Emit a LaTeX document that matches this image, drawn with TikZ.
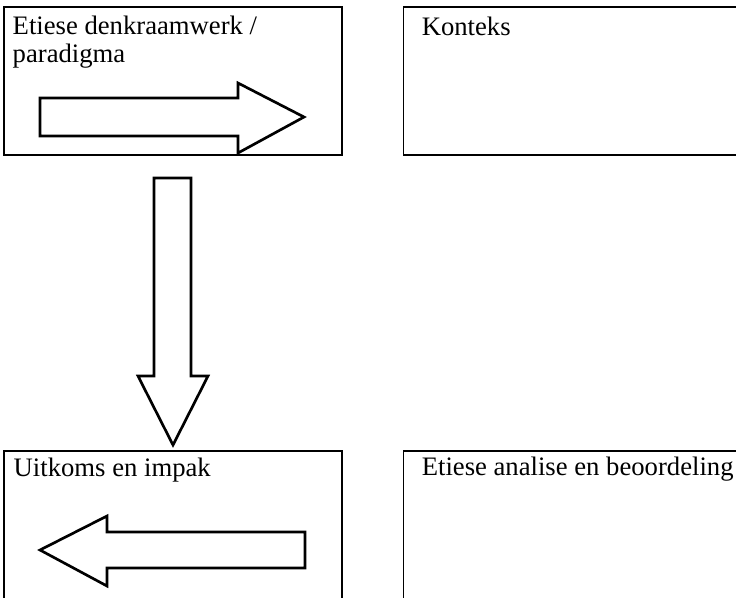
\documentclass[tikz,border=0pt]{standalone}
\usepackage{fontspec}
\setmainfont{Liberation Serif}
\usetikzlibrary{positioning}

\begin{document}
\begin{tikzpicture}[x=0.75pt, y=-0.75pt, font=\fontsize{20}{21}\selectfont,
	box/.style = { rectangle, draw=black, line width=0.8pt, fill=white,
	minimum width=253.5pt, minimum height=111pt, inner sep=0pt },
	caption/.style = { anchor=base west, inner sep=0pt, align=left },
	blockarrow/.style = { draw=black, line width=2pt, fill=white } ]

  \useasboundingbox (0,0) rectangle (736,597);
  \clip (0,0) rectangle (736,597);

  % the four boxes
  \node [name=frame, box] at (173,81) {};
  \node [name=context, box, right=45pt of frame] {};
  \node [name=outcome, box, below=221.2pt of frame] {};
  \node [name=analysis, box, right=45pt of outcome] {};

  \node [name=frametext, caption] at ([shift={(9,56)}]frame.north west)
	{Etiese denkraamwerk /\\ paradigma};
  \node [name=contexttext, caption] at ([shift={(19,29)}]context.north west)
	{Konteks};
  \node [name=outcometext, caption] at ([shift={(10,26)}]outcome.north west)
	{Uitkoms en impak};
  \node [name=analysistext, caption] at ([shift={(19,25)}]analysis.north west)
	{Etiese analise en beoordeling};

  % block arrows
  \draw [blockarrow] (40,98) -- (238,98) -- (238,83) -- (304,117)
	-- (238,153) -- (238,136) -- (40,136) -- cycle;
  \draw [blockarrow] (154,178) -- (191,178) -- (191,376) -- (208,376)
	-- (173,445) -- (138,376) -- (154,376) -- cycle;
  \draw [blockarrow] (305,532) -- (107,532) -- (107,516) -- (40,550)
	-- (107,586) -- (107,568) -- (305,568) -- cycle;
\end{tikzpicture}
\end{document}
